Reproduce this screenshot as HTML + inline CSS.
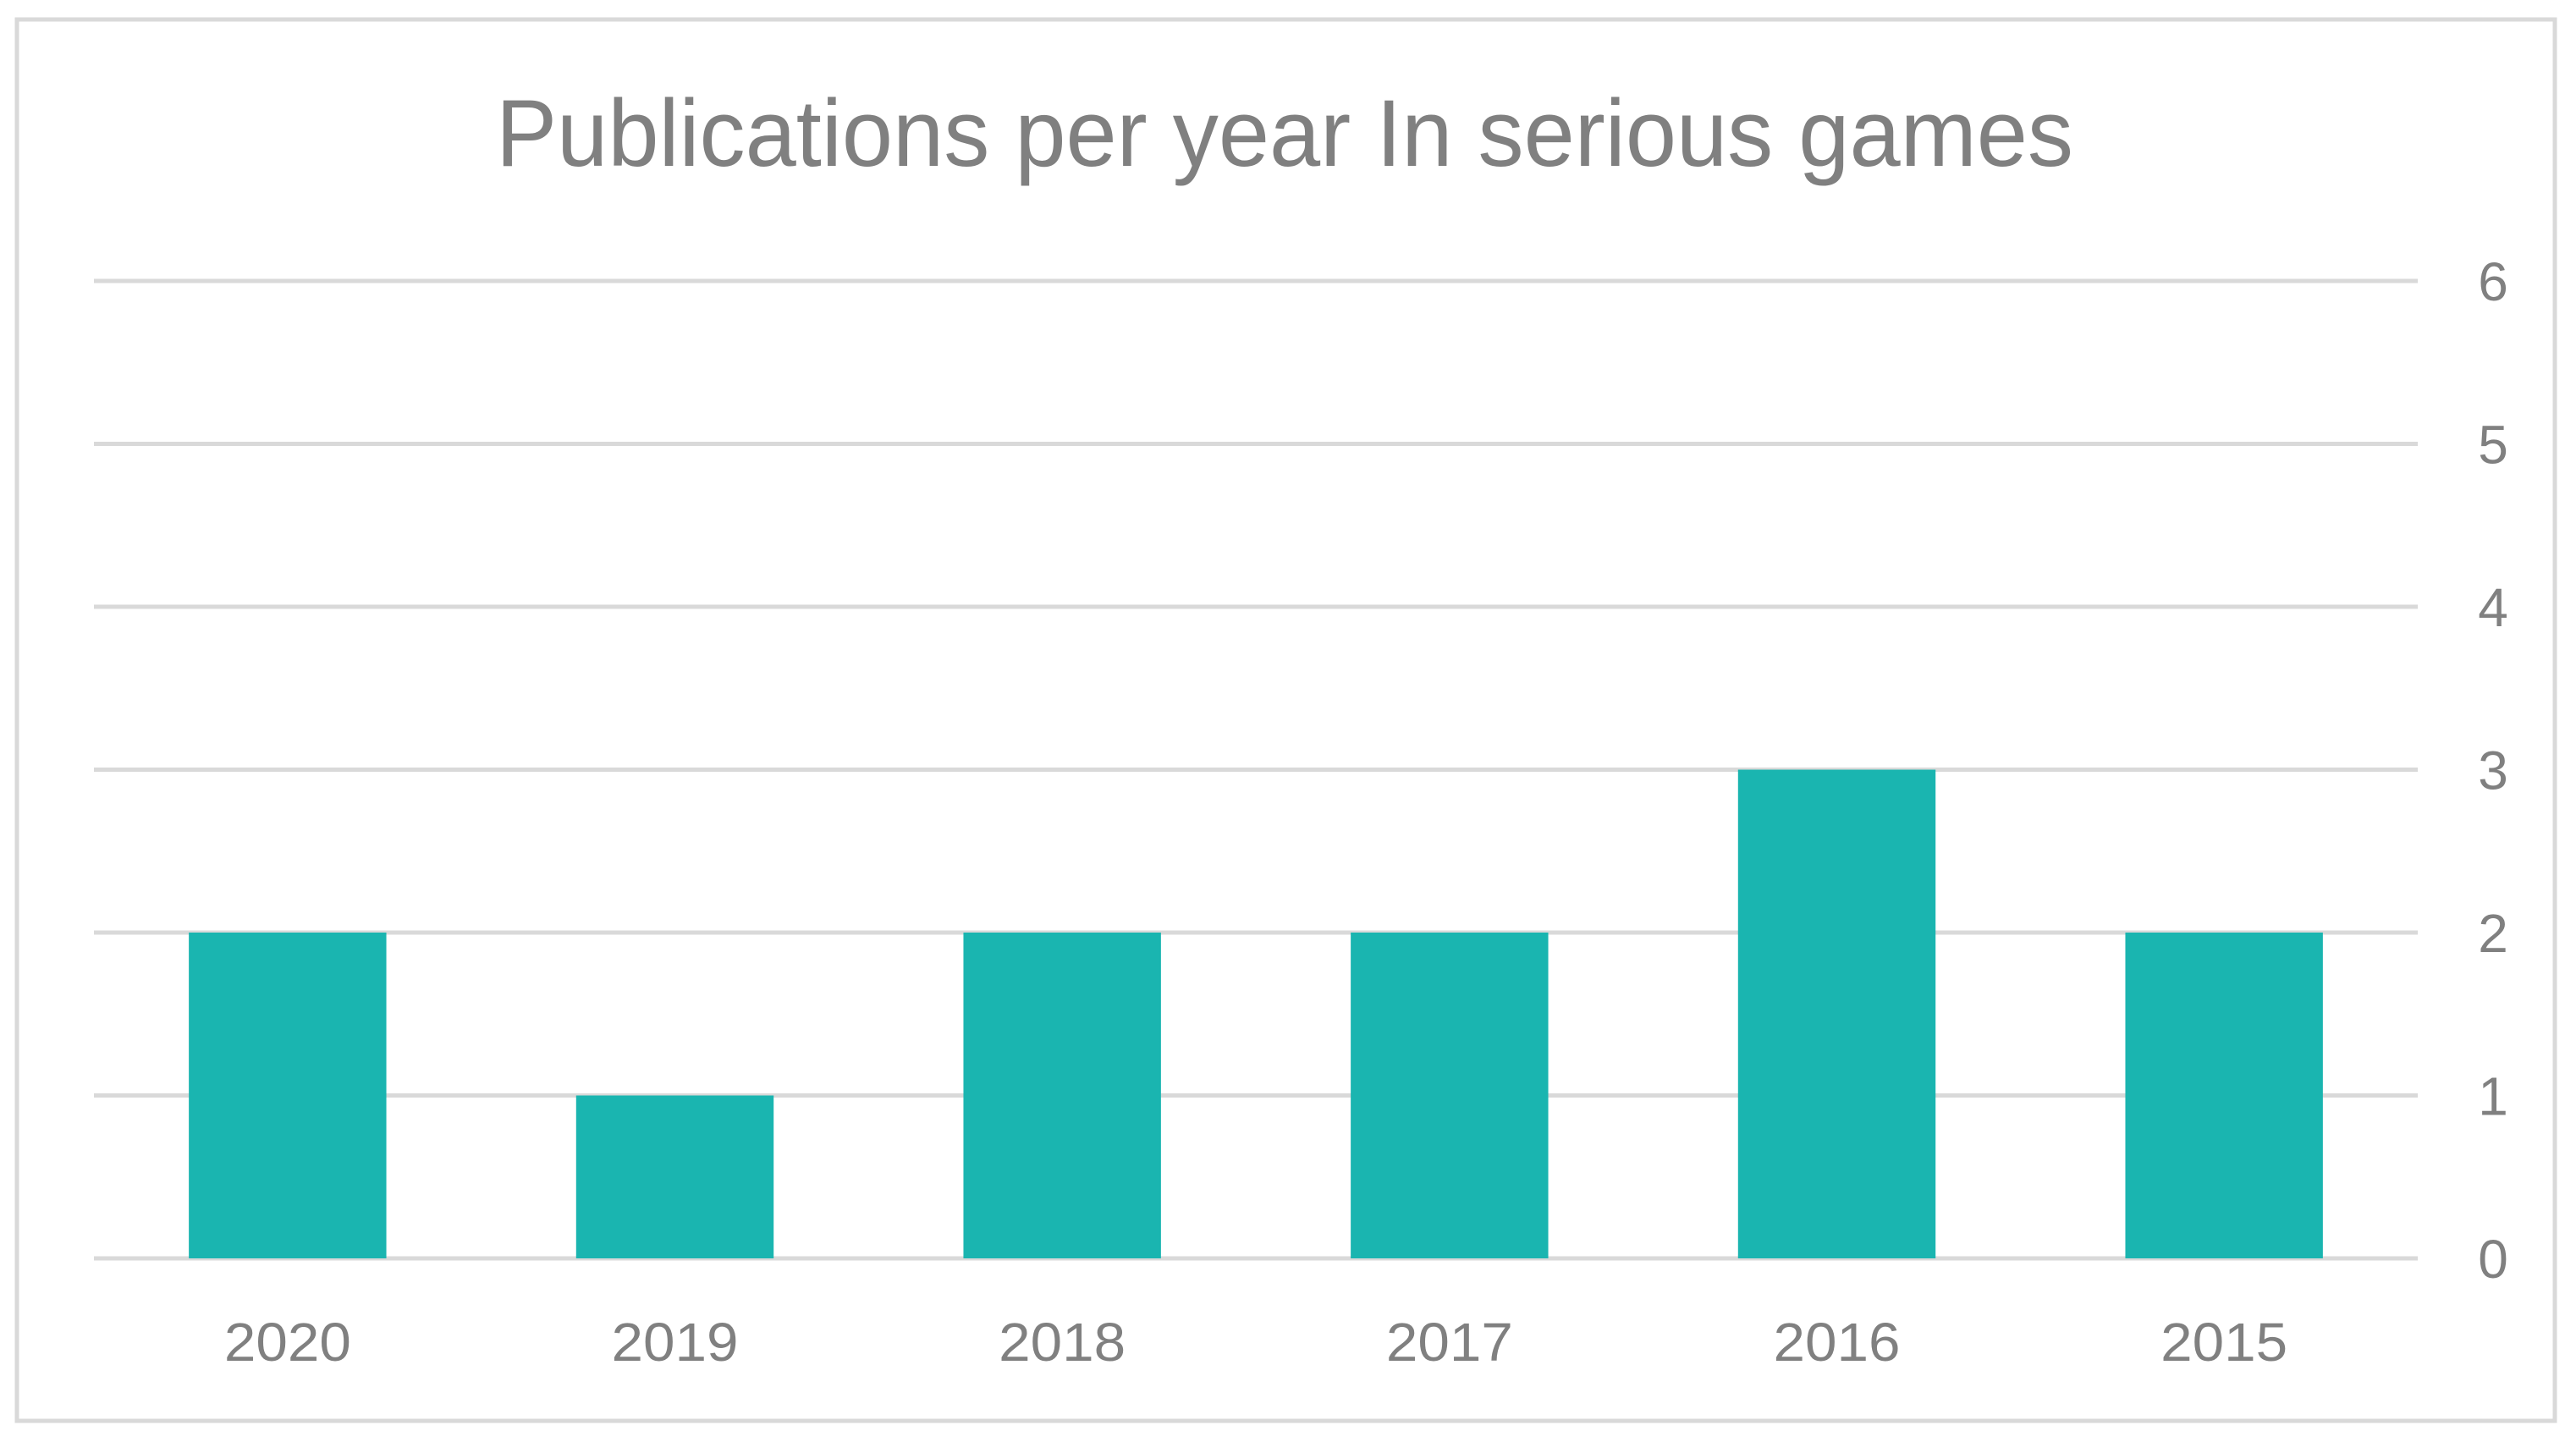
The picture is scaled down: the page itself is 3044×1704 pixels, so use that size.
<!DOCTYPE html>
<html><head><meta charset="utf-8"><style>
html,body{margin:0;padding:0;background:#fff}
svg{display:block}
text{font-family:"Liberation Sans",sans-serif;fill:#808080}
</style></head><body>
<svg id="chart" width="3044" height="1704" viewBox="0 0 3044 1704">
<rect x="20" y="23" width="2999" height="1656" fill="#fff" stroke="#d9d9d9" stroke-width="5"/>
<text x="1518" y="196" text-anchor="middle" font-size="112" textLength="1864" lengthAdjust="spacingAndGlyphs">Publications per year In serious games</text>
<g id="grid"></g><g id="bars"></g><g id="labels"></g>
</svg>
<script>
const categories=["2020","2019","2018","2017","2016","2015"];
const values=[2,1,2,2,3,2];
const yTicks=[0,1,2,3,4,5,6];
const X0=111,X1=2857,Y0=1487,Y1=332,YMAX=6;
const ns="http://www.w3.org/2000/svg";
function y(v){return Y0-(v/YMAX)*(Y0-Y1);}
const band=(X1-X0)/categories.length;
function xc(i){return X0+band*(i+0.5);}
const grid=document.getElementById('grid'),bars=document.getElementById('bars'),labels=document.getElementById('labels');
yTicks.forEach(t=>{
  const l=document.createElementNS(ns,'line');
  
  
  l.setAttribute('x1',X0);l.setAttribute('x2',X1);l.setAttribute('y1',y(t));l.setAttribute('y2',y(t));
  l.setAttribute('stroke','#d9d9d9');l.setAttribute('stroke-width','5');
  grid.appendChild(l);
  const tx=document.createElementNS(ns,'text');
  
  
  tx.setAttribute('x',2946);tx.setAttribute('y',y(t)+23);tx.setAttribute('text-anchor','middle');tx.setAttribute('font-size','64');
  tx.textContent=t;labels.appendChild(tx);
});
const bw=band*0.51;
categories.forEach((c,i)=>{
  const r=document.createElementNS(ns,'rect');
  
  
  r.setAttribute('x',xc(i)-bw/2);r.setAttribute('width',bw);
  r.setAttribute('y',y(values[i]));r.setAttribute('height',y(0)-y(values[i]));
  r.setAttribute('fill','#1ab5b0');
  bars.appendChild(r);
  const tx=document.createElementNS(ns,'text');
  
  
  tx.setAttribute('x',xc(i));tx.setAttribute('y',1608);tx.setAttribute('text-anchor','middle');tx.setAttribute('font-size','64');
  tx.setAttribute('textLength','150');tx.setAttribute('lengthAdjust','spacingAndGlyphs');
  tx.textContent=c;labels.appendChild(tx);
});
</script>
</body></html>
